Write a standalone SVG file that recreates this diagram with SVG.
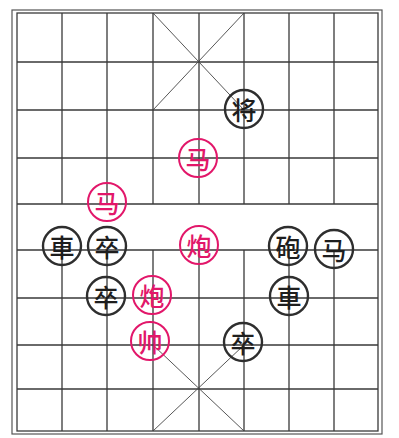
<svg xmlns="http://www.w3.org/2000/svg" width="399" height="438" viewBox="0 0 399 438">
<style>
.ln{stroke:#3a3a3a;stroke-width:1.3;fill:none}
.dg{stroke:#444;stroke-width:0.9;fill:none}
.fr{stroke:#555;stroke-width:1.2;fill:none}
.pb circle{fill:none;stroke:#2e2e2e;stroke-width:2.4}
.pr circle{fill:none;stroke:#e2176a;stroke-width:2}
.pb text{fill:#1e1e1e}
.pr text{fill:#e2176a}
text{font-family:"Noto Sans CJK SC","Noto Sans CJK TC",sans-serif;font-size:25px;font-weight:500;text-anchor:middle;dominant-baseline:central}
</style>
<rect width="399" height="438" fill="#ffffff"/>
<g id="board">
<rect class="fr" x="12" y="10" width="370" height="424"/>
<rect class="ln" x="17" y="13" width="361" height="418"/>
<path class="ln" d="M17 62H378M17 110H378M17 158H378M17 204H378M17 250H378M17 298H378M17 345H378M17 389H378"/>
<path class="ln" d="M62 13V204M107 13V204M153 13V204M199 13V204M244 13V204M289 13V204M334 13V204"/>
<path class="ln" d="M62 250V431M107 250V431M153 250V431M199 250V431M244 250V431M289 250V431M334 250V431"/>
<path class="dg" d="M153 13L244 110M244 13L153 110M153 345L244 431M244 345L153 431"/>
</g>
<g id="jiang" class="pb"><circle cx="244" cy="109" r="19"/><text x="244" y="109">将</text></g>
<g id="ma-red-1" class="pr"><circle cx="198" cy="158" r="19"/><text x="198" y="158">马</text></g>
<g id="ma-red-2" class="pr"><circle cx="107" cy="202" r="19"/><text x="107" y="202">马</text></g>
<g id="ju-black-1" class="pb"><circle cx="62" cy="246" r="19"/><text x="62" y="246">車</text></g>
<g id="zu-black-1" class="pb"><circle cx="107" cy="246" r="19"/><text x="107" y="246">卒</text></g>
<g id="pao-red-1" class="pr"><circle cx="199" cy="245" r="19"/><text x="199" y="245">炮</text></g>
<g id="pao-black" class="pb"><circle cx="288" cy="246" r="19"/><text x="288" y="246">砲</text></g>
<g id="ma-black" class="pb"><circle cx="334" cy="249" r="19"/><text x="334" y="249">马</text></g>
<g id="zu-black-2" class="pb"><circle cx="106" cy="296" r="19"/><text x="106" y="296">卒</text></g>
<g id="pao-red-2" class="pr"><circle cx="152" cy="295" r="19"/><text x="152" y="295">炮</text></g>
<g id="ju-black-2" class="pb"><circle cx="289" cy="296" r="19"/><text x="289" y="296">車</text></g>
<g id="shuai" class="pr"><circle cx="150" cy="341" r="19"/><text x="150" y="341">帅</text></g>
<g id="zu-black-3" class="pb"><circle cx="243" cy="342" r="19"/><text x="243" y="342">卒</text></g>
<g id="connectors"></g>
</svg>
